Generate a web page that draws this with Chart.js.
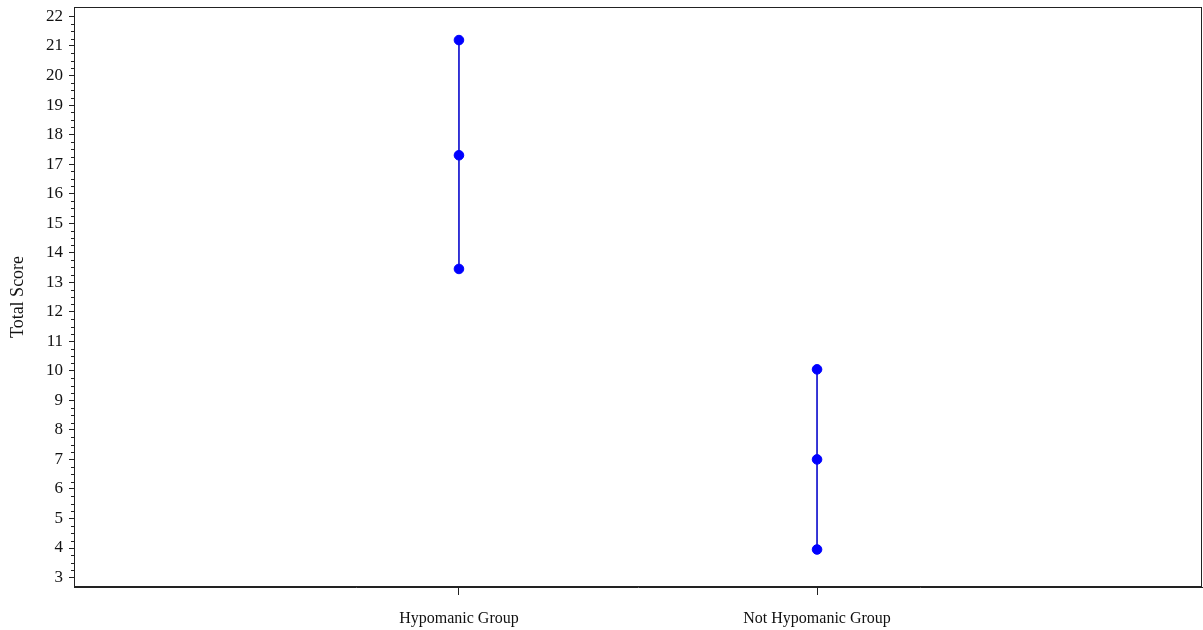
<!DOCTYPE html>
<html>
<head>
<meta charset="utf-8">
<script src="https://cdn.jsdelivr.net/npm/chart.js@4/dist/chart.umd.min.js"></script>
<style>
  html, body { margin: 0; padding: 0; background: #fff; }
  #wrap { width: 1203px; height: 630px; }
</style>
</head>
<body>
<div id="wrap"><canvas id="chart" width="1203" height="630"></canvas></div>
<script>
// data
const groups = ['Hypomanic Group', 'Not Hypomanic Group'];
const groupPositions = [1, 2];
const hypomanicScores = [21.2, 17.3, 13.45];
const notHypomanicScores = [10.05, 7.0, 3.95];
const yTickValues = [3, 4, 5, 6, 7, 8, 9, 10, 11, 12, 13, 14, 15, 16, 17, 18, 19, 20, 21, 22];

const serif = "'Times New Roman', 'Liberation Serif', serif";

function toPoints(xPos, values) {
  return values.map(v => ({ x: xPos, y: v }));
}

// frame around the plot + minor ticks on the y axis
const framePlugin = {
  id: 'frame',
  afterDraw(chart) {
    const ctx = chart.ctx;
    const a = chart.chartArea;
    const y = chart.scales.y;
    ctx.save();
    ctx.strokeStyle = '#222';
    ctx.lineWidth = 1;
    ctx.strokeRect(a.left + 0.5, a.top + 0.5, a.right - a.left - 1, a.bottom - a.top - 1);
    ctx.beginPath();
    for (let v = yTickValues[0]; v < yTickValues[yTickValues.length - 1]; v += 0.25) {
      if (Number.isInteger(v)) continue;
      const py = Math.round(y.getPixelForValue(v)) + 0.5;
      ctx.moveTo(a.left - 3, py);
      ctx.lineTo(a.left, py);
    }
    ctx.stroke();
    ctx.restore();
  }
};

const lineStyle = {
  borderColor: '#1c1cd0',
  borderWidth: 1,
  backgroundColor: '#0000ff',
  pointBackgroundColor: '#0000ff',
  pointBorderColor: '#0000ff',
  pointRadius: 4.8,
  pointBorderWidth: 1,
  showLine: true,
  fill: false
};

new Chart(document.getElementById('chart').getContext('2d'), {
  type: 'scatter',
  data: {
    datasets: [
      Object.assign({ label: groups[0], data: toPoints(groupPositions[0], hypomanicScores) }, lineStyle),
      Object.assign({ label: groups[1], data: toPoints(groupPositions[1], notHypomanicScores) }, lineStyle)
    ]
  },
  options: {
    responsive: false,
    animation: false,
    layout: { autoPadding: false, padding: { top: 7, right: 1, bottom: 0, left: 0 } },
    plugins: {
      legend: { display: false },
      tooltip: { enabled: false }
    },
    scales: {
      x: {
        type: 'linear',
        min: -0.075,
        max: 3.075,
        afterBuildTicks: axis => { axis.ticks = groupPositions.map(v => ({ value: v })); },
        afterFit: axis => { axis.height = 43; axis.paddingLeft = 0; axis.paddingRight = 0; },
        grid: { display: true, drawOnChartArea: false, drawTicks: true, tickLength: 8, tickColor: '#222' },
        border: { display: true, color: '#222' },
        ticks: {
          color: '#111',
          padding: 14,
          maxRotation: 0,
          font: { family: serif, size: 16 },
          callback: v => groups[groupPositions.indexOf(v)] || ''
        }
      },
      y: {
        type: 'linear',
        min: 2.68,
        max: 22.32,
        afterBuildTicks: axis => { axis.ticks = yTickValues.map(v => ({ value: v })); },
        afterFit: axis => { axis.width = 74; axis.paddingTop = 0; axis.paddingBottom = 0; },
        grid: { display: true, drawOnChartArea: false, drawTicks: true, tickLength: 5, tickColor: '#222' },
        border: { display: true, color: '#222' },
        title: {
          display: true,
          text: 'Total Score',
          color: '#111',
          font: { family: serif, size: 18 },
          padding: { top: 7, bottom: 6 }
        },
        ticks: {
          color: '#111',
          padding: 6,
          font: { family: serif, size: 17 }
        }
      }
    }
  },
  plugins: [framePlugin]
});
</script>
</body>
</html>
